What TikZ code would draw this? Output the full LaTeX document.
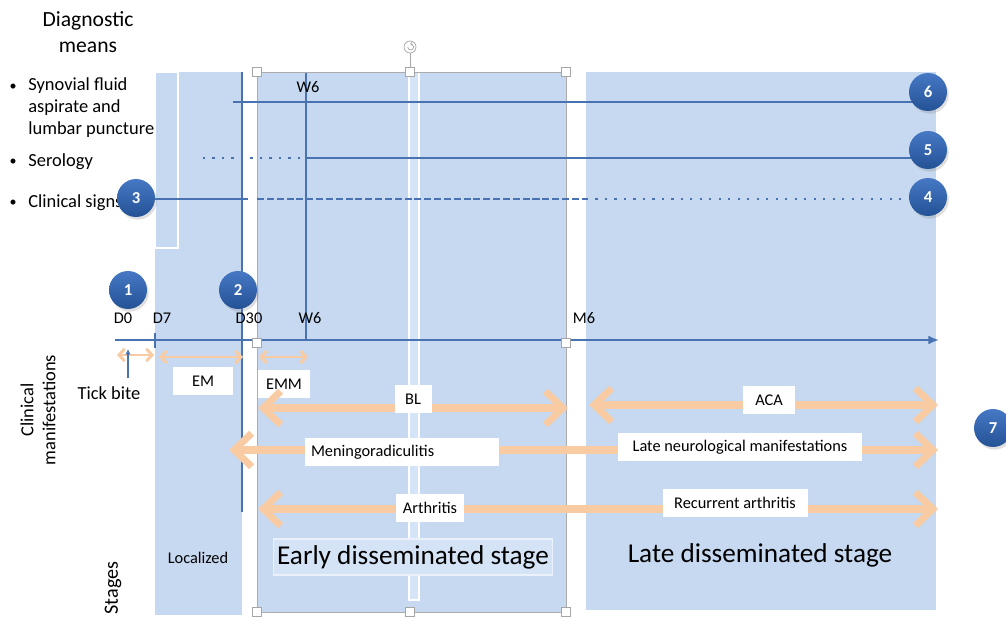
\documentclass[tikz,border=0pt]{standalone}
\usepackage{fontspec}
\setmainfont{Carlito}
\usetikzlibrary{arrows.meta, positioning, shadows}
\definecolor{bandblue}{RGB}{198,217,241}
\definecolor{striplight}{RGB}{214,228,247}
\definecolor{lineblue}{RGB}{72,114,178}
\definecolor{badgetop}{RGB}{70,120,196}
\definecolor{badgebot}{RGB}{36,82,150}
\definecolor{peach}{RGB}{249,203,163}
\definecolor{hilite}{RGB}{213,227,246}
\tikzset{
  band/.style={fill=bandblue, draw=none},
  tag/.style={fill=white, minimum height=0.56cm, inner sep=0pt, align=center},
  handle/.style={rectangle, draw=gray!70, fill=white, minimum size=0.17cm, inner sep=0pt, line width=0.4pt}
}

\begin{document}
\begin{tikzpicture}[
    x=0.02cm, y=-0.02cm,
    every node/.style={font=\fontsize{9.3}{11}\selectfont, inner sep=0pt},
    axisline/.style={draw=lineblue, line width=1.1pt},
    dotline/.style={axisline, dash pattern=on 1.2pt off 4.2pt},
    dashline/.style={axisline, dash pattern=on 4pt off 1.6pt},
    badge/.style={circle, minimum size=0.76cm, top color=badgetop, bottom color=badgebot,
      text=white, font=\bfseries\fontsize{9.5}{10}\selectfont,
      drop shadow={opacity=0.25, shadow xshift=1pt, shadow yshift=-1.5pt}},
    bigarrow/.style={draw=peach, line width=4pt,
      {Straight Barb[length=10pt,width=19pt]}-{Straight Barb[length=10pt,width=19pt]}},
    smallarrow/.style={draw=peach, line width=1.7pt,
      {Straight Barb[length=3.2pt,width=7pt]}-{Straight Barb[length=3.2pt,width=7pt]}},
    bigtext/.style={font=\fontsize{15.5}{18}\selectfont},
    sidetext/.style={font=\fontsize{10.5}{12.5}\selectfont},
]
\useasboundingbox (0,0) rectangle (1006,621);

% stage bands
\fill[band] (155,72) rectangle (242,615);
\fill[band] (257,72) rectangle (566,612);
\fill[band] (586,72) rectangle (936,610);
\draw[white, line width=0.8pt] (155,72) rectangle (178,248);
\draw[white, fill=striplight, line width=0.6pt] (409,72) rectangle (419,600);

% headings
\node[font=\fontsize{12.3}{15}\selectfont, align=center] (diag) at (88,32) {Diagnostic\\means};
\node[sidetext, anchor=west, align=left] (syn) at (28,108) {Synovial fluid\\aspirate and\\lumbar puncture};
\node[sidetext, anchor=west] (sero) at (28,162) {Serology};
\node[sidetext, anchor=west] (clin) at (28,203) {Clinical signs};
\foreach \y in {87,162,203} {
  \node[font=\fontsize{8}{10}\selectfont] at (13,\y) {•};
}
\node[sidetext, rotate=90, align=center] (cman) at (38,410) {Clinical\\manifestations};
\node[sidetext, rotate=90, font=\fontsize{11.5}{13}\selectfont] (stg) at (113,588) {Stages};

% vertical markers
\coordinate (d30top) at (242,72);
\coordinate (d30bot) at (242,512);
\coordinate (w6top) at (306,72);
\coordinate (w6bot) at (306,340);
\draw[axisline, line width=0.9pt] (d30top) -- (d30bot);
\draw[axisline, line width=0.9pt] (w6top) -- (w6bot);

% selection outline of the early band
\draw[gray!65, line width=0.5pt] (257,72) rectangle (566,612);

% timeline
\coordinate (tStart) at (115,340);
\coordinate (tEnd) at (939,340);
\draw[axisline, -{Latex[length=6pt,width=5pt]}] (tStart) -- (tEnd);
\coordinate (d7a) at (155,333);
\coordinate (d7b) at (155,348);
\draw[axisline] (d7a) -- (d7b);
\node (lD0) at (123,318) {D0};
\node (lD7) at (162,318) {D7};
\node (lD30) at (249,318) {D30};
\node (lW6) at (310,318) {W6};
\node (lM6) at (584,318) {M6};
\node (lW6top) at (308,87) {W6};

% diagnostic lines
\coordinate (s6) at (233,102);
\coordinate (s5a) at (203,158);
\coordinate (s5b) at (300,158);
\coordinate (s5c) at (307,158);
\coordinate (s3a) at (248,199);
\coordinate (s3b) at (257,199);
\coordinate (s3c) at (586,199);
\coordinate (p6) at (928,92);
\coordinate (p5) at (928,150);
\coordinate (p4) at (928,197);
\coordinate (p3) at (136,198);
\draw[axisline] (s6) -- (s6 -| p6);
\draw[dotline] (s5a) -- (s5b);
\draw[axisline] (s5c) -- (s5c -| p5);
\draw[axisline] (p3 |- s3a) -- (s3a);
\draw[dashline] (s3b) -- (s3c);
\draw[dotline] (s3c) -- (s3c -| p4);
\node[badge] (c6) at (p6) {6};
\node[badge] (c5) at (p5) {5};
\node[badge] (c4) at (p4) {4};
\node[badge] (c3) at (p3) {3};

% clinical manifestations
\coordinate (tbL) at (117,355);
\coordinate (tbR) at (154,355);
\coordinate (tbTail) at (128,378);
\coordinate (tbHead) at (128,349);
\draw[smallarrow] (tbL) -- (tbR);
\draw[axisline, line width=0.9pt, -{Latex[length=3pt,width=3pt]}] (tbTail) -- (tbHead);
\node[sidetext] (tick) at (109,393) {Tick bite};

\coordinate (emL) at (159,357);
\coordinate (emR) at (243,357);
\draw[smallarrow] (emL) -- (emR);
\node[tag, minimum width=1.22cm] (em) at (203,381) {EM};

\coordinate (emmL) at (259,357);
\coordinate (emmR) at (308,357);
\draw[smallarrow] (emmL) -- (emmR);
\node[tag, minimum width=1.04cm] (emm) at (284,384) {EMM};

\coordinate (blL) at (258,408);
\coordinate (blR) at (568,408);
\draw[bigarrow] (blL) -- (blR);
\node[tag, minimum width=0.74cm] (bl) at (413,399) {BL};

\coordinate (acaL) at (589,405);
\coordinate (acaR) at (938,405);
\draw[bigarrow] (acaL) -- (acaR);
\node[tag, minimum width=1.04cm] (aca) at (769,400) {ACA};

\coordinate (menL) at (229,450);
\coordinate (menR) at (938,450);
\draw[bigarrow] (menL) -- (menR);
\node[tag, text width=3.64cm, align=left, inner xsep=0.13cm] (men) at (402,452) {Meningoradiculitis};
\node[tag, minimum width=4.88cm] (late) at (740,447) {Late neurological manifestations};

\coordinate (arL) at (258,509);
\coordinate (arR) at (938,509);
\draw[bigarrow] (arL) -- (arR);
\node[tag, minimum width=1.36cm] (arth) at (430,508) {Arthritis};
\node[tag, minimum width=2.9cm] (rarth) at (735,503) {Recurrent arthritis};

% stage names
\node (loc) at (198,558) {Localized};
\node[bigtext, fill=hilite, draw=white!50!hilite, line width=0.6pt, minimum width=5.58cm, minimum height=0.72cm] (early) at (413,557) {Early disseminated stage};
\node[bigtext] (lateStg) at (760,555) {Late disseminated stage};

% time badges
\node[badge] (c1) at (128,290) {1};
\node[badge] (c2) at (238,290) {2};
\node[badge] (c7) at (993,428) {7};

% selection handles
\node[circle, draw=gray!70, fill=white, minimum size=0.24cm, line width=0.4pt] (rot) at (410,47) {};
\draw[gray!70, line width=0.4pt, -{Straight Barb[length=0.8pt,width=1.6pt]}] ([xshift=-1.3pt]rot.center) arc[start angle=180, end angle=-100, radius=3];
\draw[gray!70, line width=0.4pt] (rot.south) -- (410,72);
\foreach \hx/\hy [count=\i] in {257/72, 410/72, 566/72, 257/343, 566/343, 257/612, 410/612, 566/612} {
  \node[handle] (h\i) at (\hx,\hy) {};
}
\end{tikzpicture}
\end{document}
